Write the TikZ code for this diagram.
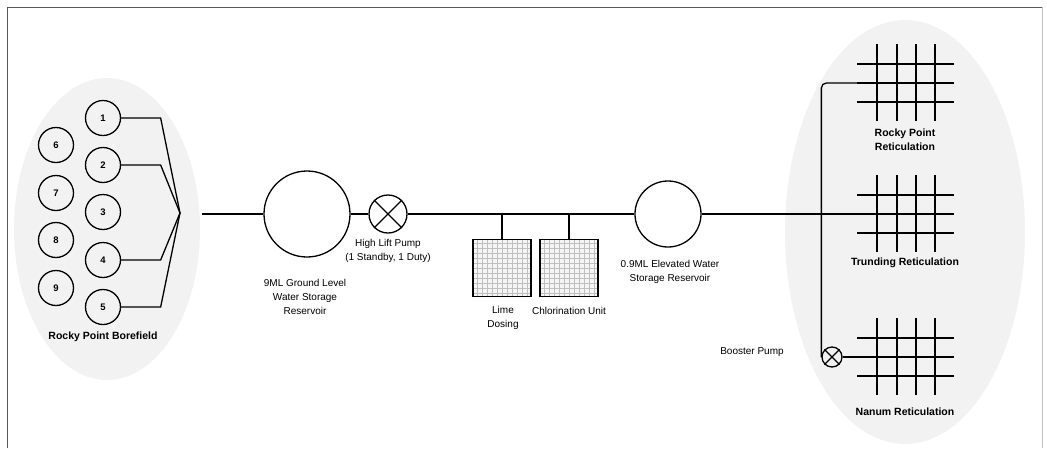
\documentclass[tikz,border=0pt]{standalone}
\usepackage{fontspec}
\setmainfont{Liberation Sans}
\begin{document}
\begin{tikzpicture}[
  x=1pt, y=-1pt,
  well/.style={circle, draw, line width=1.3pt, minimum size=35pt, inner sep=0pt, font=\fontsize{9.5}{10}\selectfont\bfseries},
  tank/.style={circle, draw, line width=1.3pt, inner sep=0pt},
  pump/.style={circle, draw, line width=1.3pt, inner sep=0pt},
  unit/.style={rectangle, draw, line width=1.5pt, minimum width=58pt, minimum height=57pt, fill=black!4,
    path picture={\draw[black!25, line width=0.3pt, step=5pt] (path picture bounding box.south west) grid (path picture bounding box.north east);}},
  lbl/.style={align=center, font=\fontsize{10}{14}\selectfont},
  blbl/.style={align=center, font=\fontsize{10.5}{14}\selectfont\bfseries},
  pipe/.style={line width=1.3pt},
  net/.style={line width=1.5pt},
  area/.style={fill=black!5}
]
\useasboundingbox (0,0) rectangle (1047,448);

% Frame
\draw[black!65, line width=1pt] (7,448) -- (7,7) -- (1042,7);
\draw[black!25, line width=0.6pt] (1042,7) -- (1042,448);

% Shaded areas
\fill[area] (107,229) ellipse [x radius=93, y radius=151];
\fill[area] (905,232) ellipse [x radius=120, y radius=212];

% Borefield
\foreach \n/\y in {1/118,2/165,3/212,4/260,5/307}
  \node[well] (w\n) at (103,\y) {\n};
\foreach \n/\y in {6/145,7/193,8/240,9/288}
  \node[well] (w\n) at (56,\y) {\n};
\node[blbl] (bf) at (103,337) {Rocky Point Borefield};

\coordinate (fan) at (180,213);
\foreach \n in {1,2,4,5}
  \draw[pipe] (w\n.east) -- ++(39.5,0) -- (fan);

% Main line
\coordinate (mainstart) at (202,214);
\node[tank, minimum size=86pt] (gl) at (307,214) {};
\node[pump, minimum size=38pt] (hlp) at (388,214) {};
\draw[pipe] (hlp.45) -- (hlp.225) (hlp.135) -- (hlp.315);
\node[tank, minimum size=66pt] (elev) at (668,214) {};

\node[unit] (lime) at (502,268) {};
\node[unit] (chlor) at (569,268) {};

\node[lbl] at (305,297) {9ML Ground Level\\Water Storage\\Reservoir};
\node[lbl] at (388,251) {High Lift Pump\\(1 Standby, 1 Duty)};
\node[lbl] at (503,318) {Lime\\Dosing};
\node[lbl] at (569,311) {Chlorination Unit};
\node[lbl] at (670,272) {0.9ML Elevated Water\\Storage Reservoir};
\node[lbl] at (752,352) {Booster Pump};

% Reticulation grids
\foreach \name/\y in {rp/83, tr/214, nn/357} {
  \foreach \dy in {-19,0,19}
    \draw[net] (857,\y+\dy) -- (954,\y+\dy);
  \foreach \x in {877,897,916,935}
    \draw[net] (\x,\y-39) -- (\x,\y+38);
  \coordinate (\name) at (857,\y);
}
\node[blbl] at (905,140) {Rocky Point\\Reticulation};
\node[blbl] at (905,263) {Trunding Reticulation};
\node[blbl] at (905,412) {Nanum Reticulation};

\node[pump, minimum size=20pt] (bp) at (832,357) {};
\draw[pipe] (bp.45) -- (bp.225) (bp.135) -- (bp.315);

% Connections
\draw[pipe] (mainstart) -- (gl) -- (hlp) -- (elev) -- (tr);
\draw[pipe] (lime.north) -- (lime.north |- hlp.center);
\draw[pipe] (chlor.north) -- (chlor.north |- hlp.center);
\draw[pipe, rounded corners=5] (rp) -| (bp.west);
\draw[pipe] (bp.east) -- (nn);

\end{tikzpicture}
\end{document}
